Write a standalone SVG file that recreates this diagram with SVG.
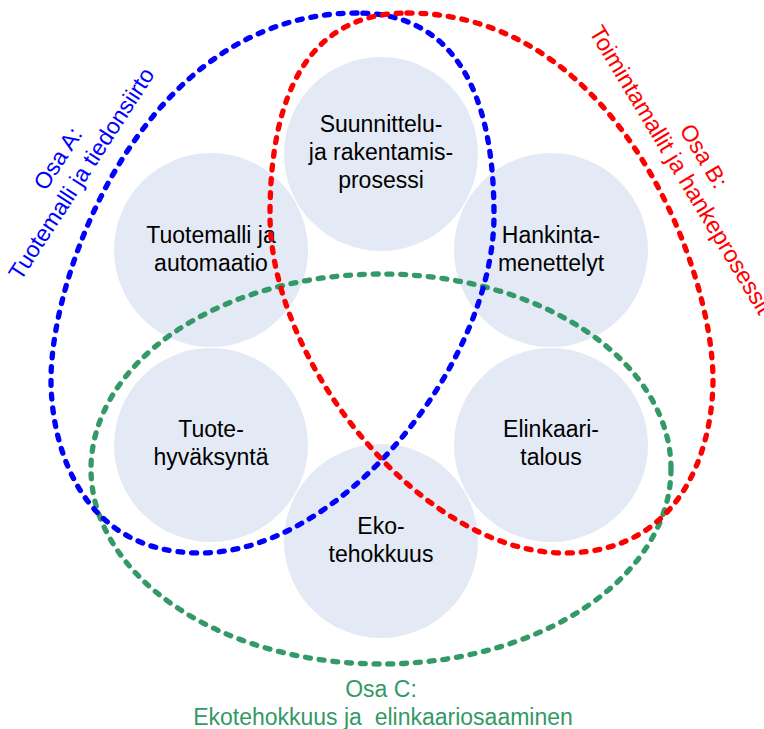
<svg xmlns="http://www.w3.org/2000/svg" width="764" height="729" viewBox="0 0 764 729">
<style>
.bg{fill:#ffffff}
.node circle{fill:#E4EAF5}
.node text{font-family:"Liberation Sans",Arial,sans-serif;font-size:23px;fill:#000;text-anchor:middle}
.loop{fill:none;stroke-width:5.3;stroke-dasharray:5 8.8;stroke-linecap:round;stroke-linejoin:round}
.lbl{font-family:"Liberation Sans",Arial,sans-serif;font-size:23px;text-anchor:middle}
</style>
<rect class="bg" x="0" y="0" width="764" height="729"/>
<g id="node-suunnittelu" class="node">
<circle cx="381" cy="154" r="97"/>
<text x="381" y="132">Suunnittelu-</text>
<text x="381" y="160">ja rakentamis-</text>
<text x="381" y="188">prosessi</text>
</g>
<g id="node-tuotemalli" class="node">
<circle cx="211" cy="250" r="97"/>
<text x="211" y="243">Tuotemalli ja</text>
<text x="211" y="271">automaatio</text>
</g>
<g id="node-hankinta" class="node">
<circle cx="551" cy="250" r="97"/>
<text x="551" y="243">Hankinta-</text>
<text x="551" y="271">menettelyt</text>
</g>
<g id="node-tuote" class="node">
<circle cx="211" cy="445" r="97"/>
<text x="211" y="437">Tuote-</text>
<text x="211" y="465">hyväksyntä</text>
</g>
<g id="node-elinkaari" class="node">
<circle cx="551" cy="445" r="97"/>
<text x="551" y="437">Elinkaari-</text>
<text x="551" y="465">talous</text>
</g>
<g id="node-eko" class="node">
<circle cx="381" cy="541" r="97"/>
<text x="381" y="534">Eko-</text>
<text x="381" y="562">tehokkuus</text>
</g>
<g id="connectors">
<ellipse id="osa-c" class="loop" stroke="#339966" cx="381" cy="469" rx="290" ry="195"/>
<path id="osa-a" class="loop" stroke="#0000FF" d="M357,13 C146,13 51,269 51,380 C51,443 79,553 200,553 C341,553 494,364 494,215 C494,92 454,13 357,13 Z"/>
<path id="osa-b" class="loop" stroke="#FF0000" d="M407,13 C618,13 713,269 713,380 C713,443 685,553 564,553 C423,553 270,364 270,215 C270,92 310,13 407,13 Z"/>
</g>
<g id="label-a" class="lbl" fill="#0000FF" transform="translate(88,178) rotate(-57)">
<text x="0" y="-28">Osa A:</text>
<text x="0" y="0">Tuotemalli ja tiedonsiirto</text>
</g>
<g id="label-b" class="lbl" fill="#FF0000" transform="translate(674,174) rotate(59)">
<text x="0" y="-27">Osa B:</text>
<text x="0" y="0" font-size="23.5">Toimintamallit ja hankeprosessit</text>
</g>
<g id="label-c" class="lbl" fill="#339966">
<text x="381" y="697">Osa C:</text>
<text x="383" y="725" xml:space="preserve">Ekotehokkuus ja  elinkaariosaaminen</text>
</g>
</svg>
